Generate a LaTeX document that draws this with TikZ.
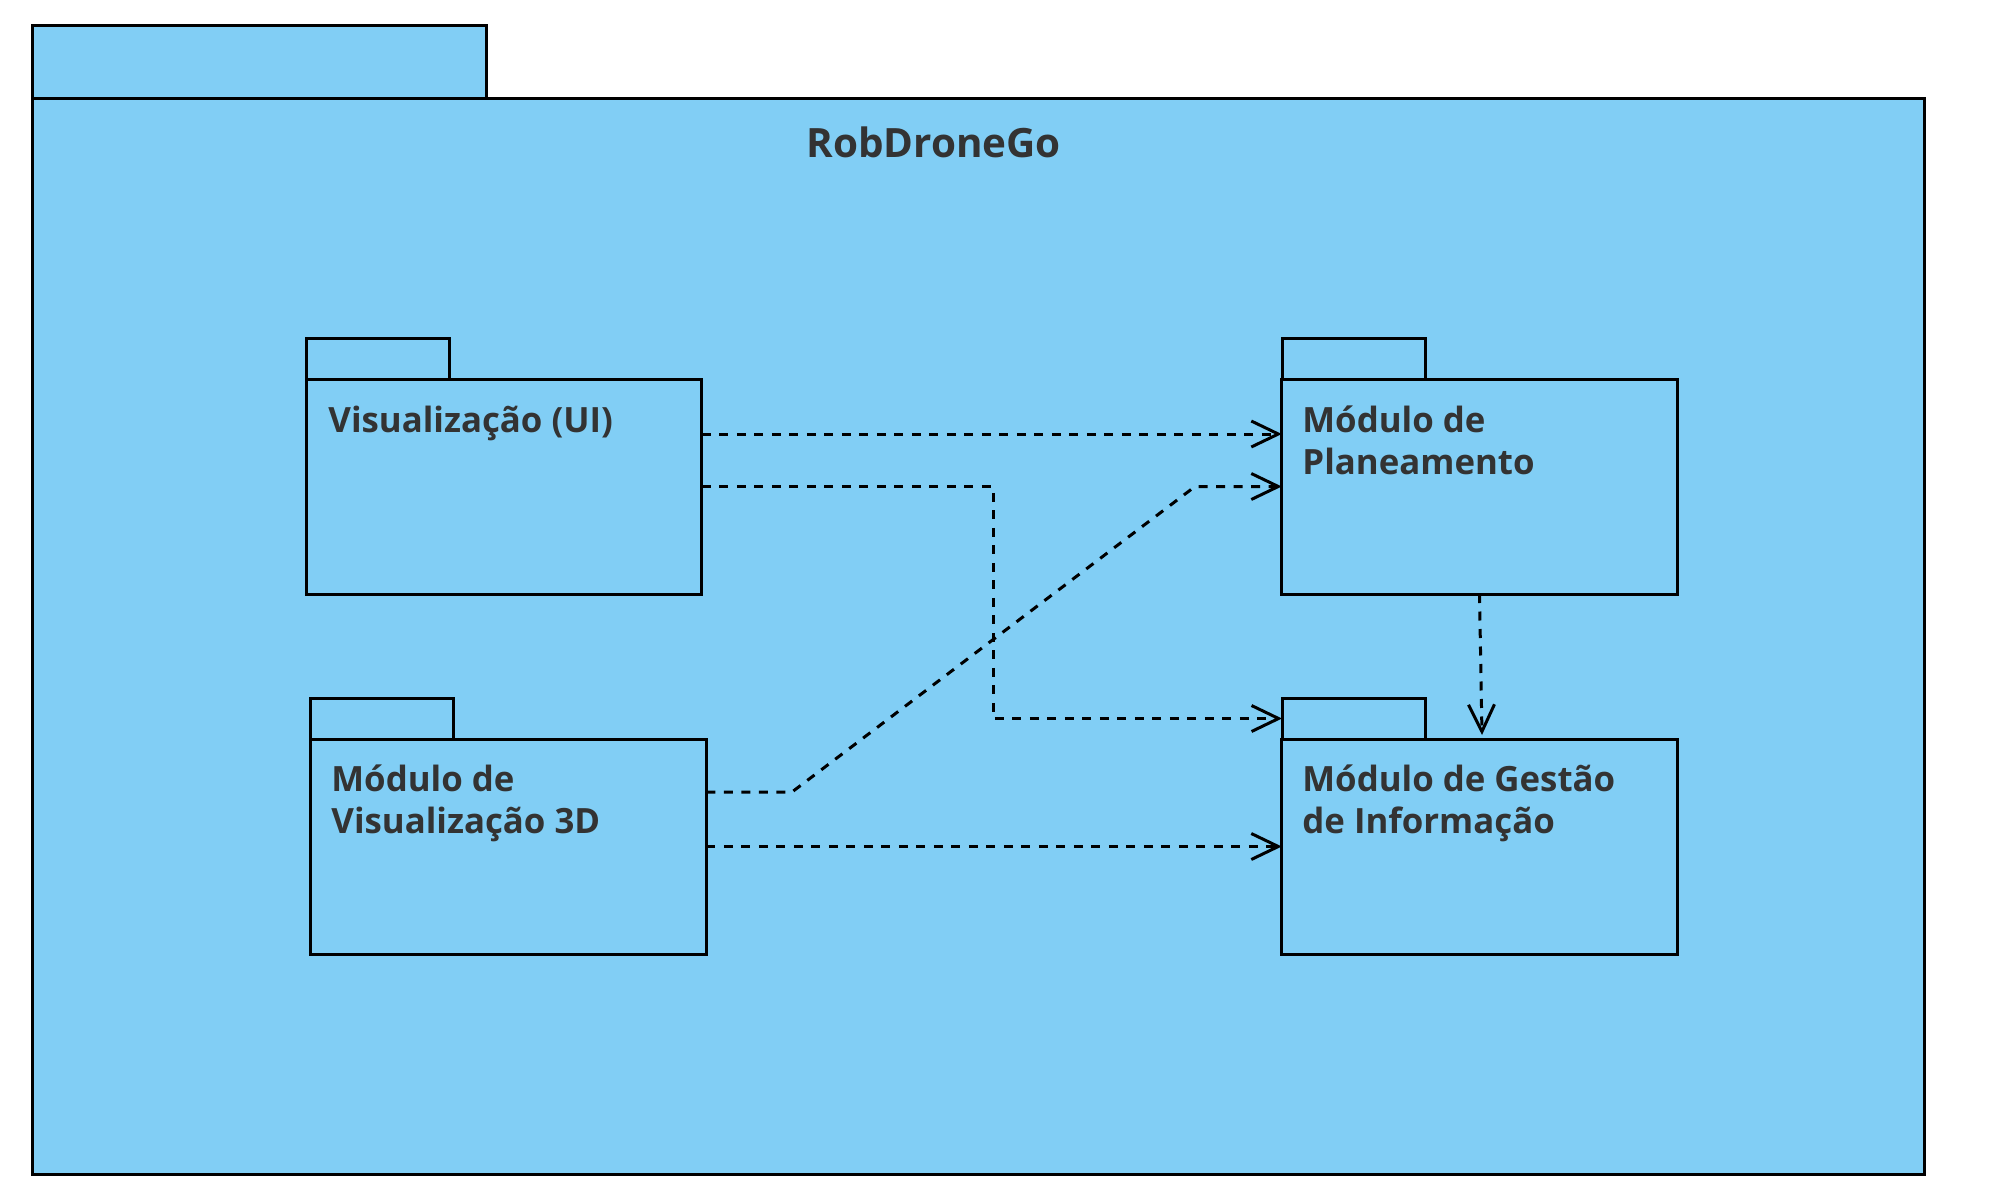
\documentclass[tikz,border=0pt]{standalone}
\usepackage{fontspec}
\setmainfont{Open Sans}
\usetikzlibrary{arrows.meta,calc}
\definecolor{pkgblue}{RGB}{129,206,245}
\definecolor{txtgray}{RGB}{51,51,51}
\begin{document}
\begin{tikzpicture}[x=0.5pt,y=-0.5pt,
  pkgline/.style={draw=black, fill=pkgblue, line width=1.5pt, inner sep=0pt, outer sep=0pt},
  body/.style={pkgline, minimum width=197.75pt, minimum height=107.5pt},
  tab/.style={pkgline, minimum width=71.5pt, minimum height=20.5pt},
  lbl/.style={anchor=base west, inner sep=0pt, align=left, text=txtgray, font=\fontsize{17.4}{20.75}\selectfont\bfseries},
  dep/.style={draw=black, line width=1.5pt, dash pattern=on 4.5pt off 4.25pt, -{Straight Barb[length=13.5pt,width=13pt]}}
]
\useasboundingbox (0,0) rectangle (1992,1200);
% outer package
\node[pkgline, minimum width=227pt, minimum height=36.5pt] (outertab) at (259,61.5) {};
\node[pkgline, minimum width=946pt, minimum height=538pt] (outer) at (978,636) {};
\node[anchor=base west, inner sep=0pt, text=txtgray, font=\fontsize{20.2}{24}\selectfont\bfseries] (title) at (806,157) {RobDroneGo};
% tabs
\node[tab] (uitab) at (377.5,358.5) {};
\node[tab] (plantab) at (1353.5,358.5) {};
\node[tab] (vtab) at (382,718.5) {};
\node[tab] (gesttab) at (1353.5,718.5) {};
% bodies
\node[body] (ui) at (504,486.5) {};
\node[body] (plan) at (1479.5,486.5) {};
\node[body] (v3d) at (508.5,846.5) {};
\node[body] (gest) at (1479.5,846.5) {};
% labels (base anchor = baseline of the last line)
\node[lbl] (uilbl) at (328,432) {Visualização (UI)};
\node[lbl] (planlbl) at (1302,474) {Módulo de\\Planeamento};
\node[lbl] (vlbl) at (331,833) {Módulo de\\Visualização 3D};
\node[lbl] (gestlbl) at (1302,833) {Módulo de Gestão\\de Informação};
% dependencies
\coordinate (bendA) at (993,718.5);
\coordinate (bendB) at (792,792);
\coordinate (bendC) at (1195,486.5);
\draw[dep] (ui.east |- 0,434) -- (plan.west |- 0,434);
\draw[dep] (ui.east) -| (bendA) -- (gesttab.west);
\draw[dep] (v3d.east |- bendB) -- (bendB) -- (bendC) -- (plan.west);
\draw[dep] (v3d.east) -- (gest.west);
\draw[dep] (plan.south) -- ($(gest.north)+(2.5,-4)$);
\end{tikzpicture}
\end{document}
